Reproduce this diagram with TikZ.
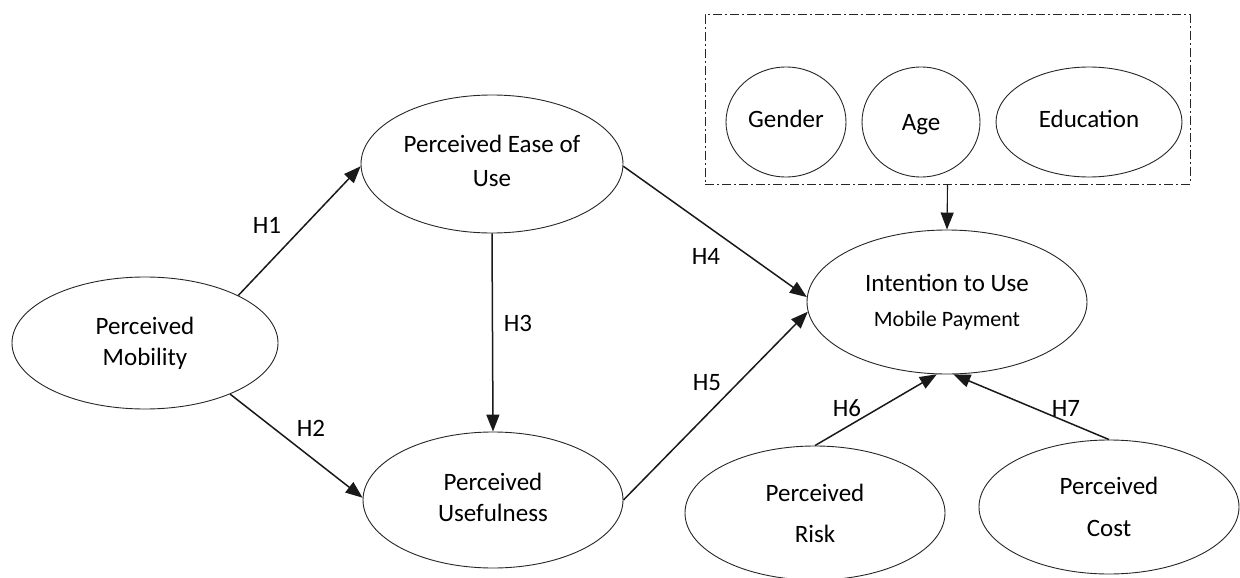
\documentclass[tikz,border=0pt]{standalone}
\usepackage{fontspec}
\setmainfont{Carlito}
\usetikzlibrary{shapes.geometric,arrows.meta}
\begin{document}
\begin{tikzpicture}[x=1pt,y=-1pt,
  ell/.style={draw=black!85, ellipse, inner sep=0pt, line width=0.9pt, align=center, text=black},
  conn/.style={-{Triangle[length=17pt,width=13pt]}, line width=1.5pt, draw=black!90},
  lbl/.style={font=\fontsize{25}{30}\selectfont, text=black}]
\useasboundingbox (0,0) rectangle (1240,578);

% moderator box
\node[draw=black!85, dash pattern=on 9pt off 3pt on 2pt off 3pt, line width=1pt,
      minimum width=485pt, minimum height=169pt, inner sep=0pt] (box) at (947.5,99.5) {};
\node[ell, minimum width=120pt, minimum height=110pt, text depth=6pt, font=\fontsize{25}{30}\selectfont] (gen) at (786,122) {Gender};
\node[ell, minimum width=118pt, minimum height=110pt, text depth=0pt, font=\fontsize{25}{30}\selectfont] (age) at (921,122) {Age};
\node[ell, minimum width=186pt, minimum height=110pt, text depth=6pt, font=\fontsize{25}{30}\selectfont] (edu) at (1089,122) {Education};

% constructs
\node[ell, minimum width=266pt, minimum height=132pt, font=\fontsize{25}{31}\selectfont] (mob) at (145,343) {Perceived\\Mobility};
\node[ell, minimum width=262pt, minimum height=138pt, text depth=6pt, font=\fontsize{25}{34}\selectfont] (ease) at (492,164) {Perceived Ease of\\Use};
\node[ell, minimum width=260pt, minimum height=136pt, text depth=6pt, font=\fontsize{25}{31}\selectfont] (use) at (493,500) {Perceived\\Usefulness};
\node[ell, minimum width=280pt, minimum height=144pt, font=\fontsize{25}{35}\selectfont] (int) at (947,302) {Intention to Use\\{\fontsize{22}{26}\selectfont Mobile Payment}};
\node[ell, minimum width=260pt, minimum height=134pt, font=\fontsize{25}{41}\selectfont] (risk) at (815,513) {Perceived\\Risk};
\node[ell, minimum width=260pt, minimum height=134pt, font=\fontsize{25}{42}\selectfont] (cost) at (1109,507) {Perceived\\Cost};

% connectors
\draw[conn] (mob.27) -- (ease.181);
\draw[conn] (mob.-31) -- (use.179);
\draw[conn] (ease.south) -- (use.north);
\draw[conn] (ease.-1) -- (int.178);
\draw[conn] (use.0) -- (int.184.5);
\draw[conn] (risk.north) -- (int.262);
\draw[conn] (cost.north) -- (int.275);
\draw[conn, line width=1.1pt] (box.south) -- (int.north);

% labels
\node[lbl] (h1) at (267,225) {H1};
\node[lbl] (h2) at (311,428) {H2};
\node[lbl] (h3) at (518,323) {H3};
\node[lbl] (h4) at (706,256) {H4};
\node[lbl] (h5) at (707,383) {H5};
\node[lbl] (h6) at (847,408) {H6};
\node[lbl] (h7) at (1066,408) {H7};
\end{tikzpicture}
\end{document}
